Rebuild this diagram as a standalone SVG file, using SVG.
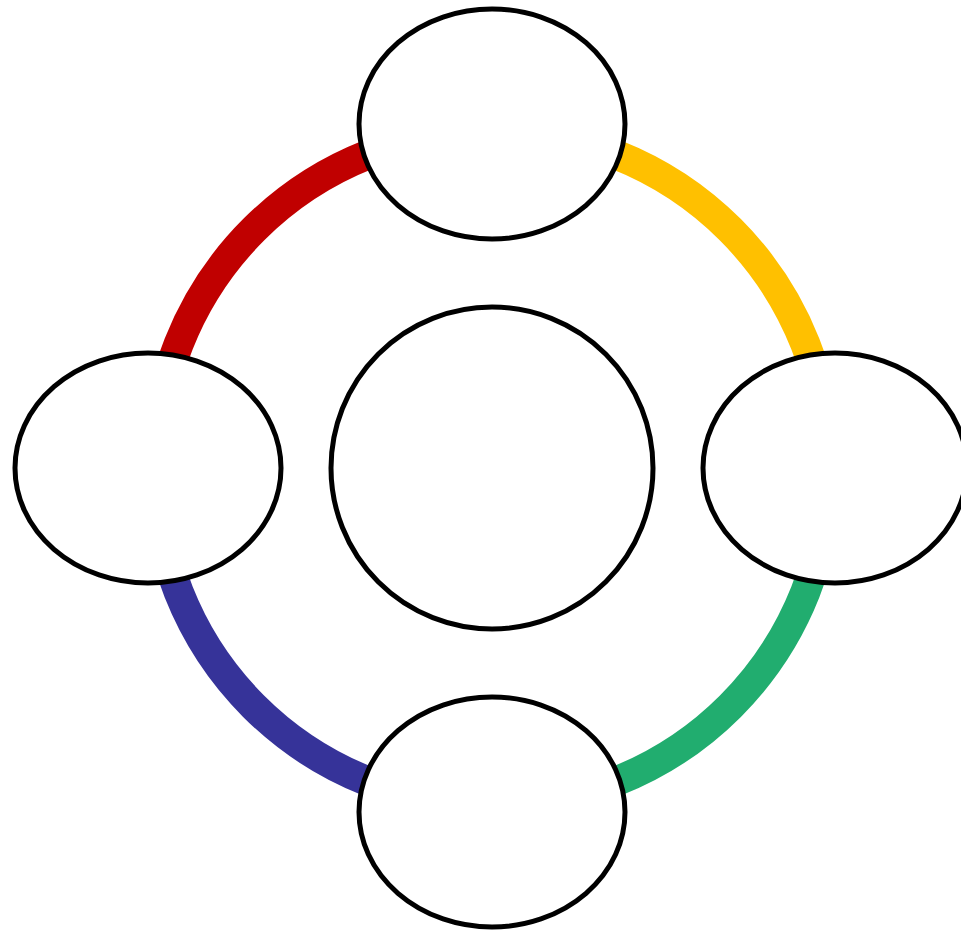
<svg xmlns="http://www.w3.org/2000/svg" width="961" height="933" viewBox="0 0 961 933">
<style>
.arc{fill:none;stroke-width:30}
.node{fill:#fff;stroke:#000;stroke-width:5}
</style>
<rect width="961" height="933" fill="#fff"/>
<g id="connectors">
<path class="arc" stroke="#C00000" d="M492,131 A337,337 0 0 0 155,468"/>
<path class="arc" stroke="#FFC000" d="M492,131 A337,337 0 0 1 829,468"/>
<path class="arc" stroke="#21AD6F" d="M829,468 A337,337 0 0 1 492,805"/>
<path class="arc" stroke="#363399" d="M155,468 A337,337 0 0 0 492,805"/>
</g>
<g id="center"><circle class="node" cx="492" cy="468" r="161"/></g>
<g id="top"><ellipse class="node" cx="492" cy="124" rx="133" ry="115"/></g>
<g id="left"><ellipse class="node" cx="148" cy="468" rx="133" ry="115"/></g>
<g id="right"><ellipse class="node" cx="835" cy="468" rx="132" ry="115"/></g>
<g id="bottom"><ellipse class="node" cx="492" cy="812" rx="133" ry="115"/></g>
</svg>
